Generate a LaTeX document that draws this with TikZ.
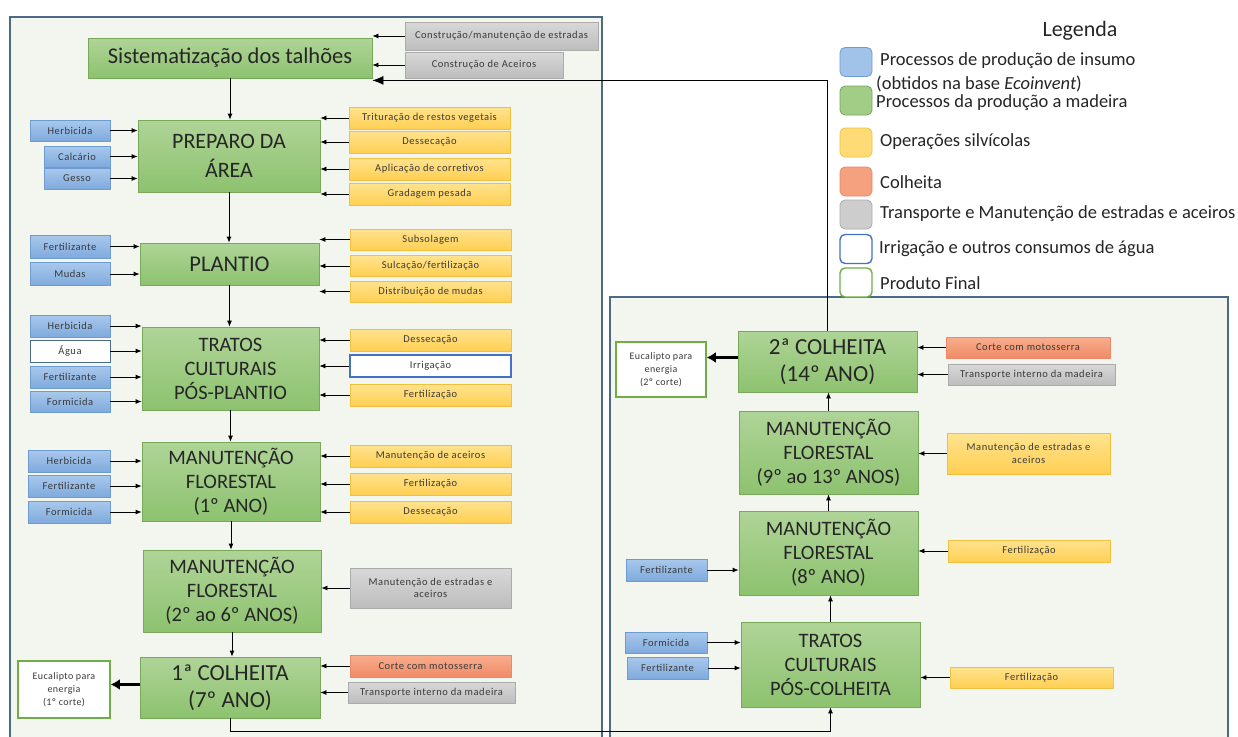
\documentclass[tikz,border=0pt]{standalone}
\usepackage{fontspec}
\setmainfont{Carlito}
\usetikzlibrary{arrows.meta}
\definecolor{gT}{HTML}{AFD497}\definecolor{gB}{HTML}{8DC26F}\definecolor{gD}{HTML}{78A85A}
\definecolor{bT}{HTML}{A9C8EC}\definecolor{bB}{HTML}{7FAADD}\definecolor{bD}{HTML}{6E9BD0}
\definecolor{yT}{HTML}{FFE38F}\definecolor{yB}{HTML}{FFCF52}\definecolor{yD}{HTML}{F2C040}
\definecolor{oT}{HTML}{F8AE8E}\definecolor{oB}{HTML}{F08A66}\definecolor{oD}{HTML}{E98A6A}
\definecolor{kT}{HTML}{D8D8D8}\definecolor{kB}{HTML}{BDBDBD}\definecolor{kD}{HTML}{ABABAB}
\definecolor{frameC}{HTML}{4A6A86}\definecolor{frameF}{HTML}{F2F6EE}
\definecolor{irrC}{HTML}{4472C4}\definecolor{prodC}{HTML}{70AD47}
\definecolor{txtC}{HTML}{262626}\definecolor{smallC}{HTML}{3A3A3A}
\newcommand{\smallfnt}{\fontsize{10.5}{12.5}\selectfont\addfontfeature{LetterSpace=5}}
\tikzset{
  sz/.style 2 args={minimum width=#1, minimum height=#2},
  basebox/.style={rectangle, draw, inner sep=1pt, align=center, line width=0.8pt},
  proc/.style={basebox, draw=gD, top color=gT, bottom color=gB, text=txtC, font={\fontsize{20.5}{24}\selectfont}},
  insumo/.style={basebox, draw=bD, top color=bT, bottom color=bB, text=smallC, font=\smallfnt},
  oper/.style={basebox, draw=yD, top color=yT, bottom color=yB, text=smallC, font=\smallfnt},
  colh/.style={basebox, draw=oD, top color=oT, bottom color=oB, text=smallC, font=\smallfnt},
  transp/.style={basebox, draw=kD, top color=kT, bottom color=kB, text=smallC, font=\smallfnt},
  agua/.style={basebox, draw=irrC, fill=white, line width=1.2pt, text=smallC, font=\smallfnt},
  produto/.style={basebox, draw=prodC, fill=white, line width=1.6pt, text=smallC, font={\fontsize{10}{13}\selectfont\addfontfeature{LetterSpace=4}}},
  arr/.style={-{Latex[length=6pt,width=5pt]}, line width=0.8pt, black},
  bigarr/.style={-{Latex[length=9pt,width=11pt]}, line width=2.6pt, black},
  fbarr/.style={-{Latex[length=11pt,width=9pt]}, line width=0.8pt, black},
  frame/.style={draw=frameC, fill=frameF, line width=1.4pt},
  swatch/.style={rectangle, rounded corners=5pt, minimum width=32pt, minimum height=29pt, line width=0.8pt},
  legtxt/.style={anchor=west, text=txtC, font={\fontsize{18.5}{21}\selectfont}, inner sep=0pt}
}
\begin{document}
\begin{tikzpicture}[x=1pt,y=-1pt]
\useasboundingbox (0,0) rectangle (1238,736);
\fill[white] (0,0) rectangle (1238,736);
\clip (0,0) rectangle (1238,736);
% containers
\draw[frame] (10,17) rectangle (602,750);
\draw[frame] (610,297) rectangle (1228,750);

% ---------------- left column
\node[proc, sz={284pt}{40pt}, font={\fontsize{22.5}{26}\selectfont}] (sist) at (230,58) {Sistematização dos talhões};
\node[transp, sz={193pt}{28pt}] (g1) at (501.5,36) {Construção/manutenção de estradas};
\node[transp, sz={158pt}{26pt}] (g2) at (484,65) {Construção de Aceiros};

\node[proc, sz={182pt}{72pt}, font={\fontsize{22}{29}\selectfont}] (prep) at (229,156) {PREPARO DA\\ÁREA};
\node[insumo, sz={80pt}{21pt}] (pb1) at (70,130.5) {Herbicida};
\node[insumo, sz={66pt}{21pt}] (pb2) at (77,156.5) {Calcário};
\node[insumo, sz={66pt}{21pt}] (pb3) at (77,178.5) {Gesso};
\node[oper, sz={161pt}{22pt}] (py1) at (429.5,118) {Trituração de restos vegetais};
\node[oper, sz={161pt}{22pt}] (py2) at (429.5,142) {Dessecação};
\node[oper, sz={161pt}{22pt}] (py3) at (429.5,169) {Aplicação de corretivos};
\node[oper, sz={161pt}{22pt}] (py4) at (429.5,194) {Gradagem pesada};

\node[proc, sz={179pt}{42pt}, font={\fontsize{22.5}{26}\selectfont}] (plant) at (229.5,264) {PLANTIO};
\node[insumo, sz={80pt}{23pt}] (lb1) at (70,246.5) {Fertilizante};
\node[insumo, sz={80pt}{23pt}] (lb2) at (70,274) {Mudas};
\node[oper, sz={161pt}{21pt}] (ly1) at (430.5,239.5) {Subsolagem};
\node[oper, sz={161pt}{21pt}] (ly2) at (430.5,266) {Sulcação/fertilização};
\node[oper, sz={161pt}{21pt}] (ly3) at (430.5,291.5) {Distribuição de mudas};

\node[proc, sz={177pt}{83pt}] (tpp) at (230.5,368.5) {TRATOS\\CULTURAIS\\PÓS-PLANTIO};
\node[insumo, sz={80pt}{22pt}] (tb1) at (70,326) {Herbicida};
\node[agua, sz={80pt}{22pt}, draw=frameC, line width=0.8pt] (tb2) at (70,351) {Água};
\node[insumo, sz={80pt}{22pt}] (tb3) at (70,377) {Fertilizante};
\node[insumo, sz={80pt}{21pt}] (tb4) at (70,401.5) {Formicida};
\node[oper, sz={161pt}{22pt}] (ty1) at (430.5,340) {Dessecação};
\node[agua, sz={161pt}{22pt}] (ty2) at (430.5,366) {Irrigação};
\node[oper, sz={161pt}{22pt}] (ty3) at (430.5,395) {Fertilização};

\node[proc, sz={178pt}{79pt}] (mf1) at (231,481.5) {MANUTENÇÃO\\FLORESTAL\\(1º ANO)};
\node[insumo, sz={82pt}{22pt}] (mb1) at (69,461) {Herbicida};
\node[insumo, sz={82pt}{22pt}] (mb2) at (69,486) {Fertilizante};
\node[insumo, sz={82pt}{22pt}] (mb3) at (69,512) {Formicida};
\node[oper, sz={161pt}{22pt}] (my1) at (430.5,456) {Manutenção de aceiros};
\node[oper, sz={161pt}{22pt}] (my2) at (430.5,484) {Fertilização};
\node[oper, sz={161pt}{22pt}] (my3) at (430.5,512) {Dessecação};

\node[proc, sz={178pt}{82pt}] (mf2) at (232,591) {MANUTENÇÃO\\FLORESTAL\\(2º ao 6º ANOS)};
\node[transp, sz={161pt}{40pt}] (mg1) at (430.5,588) {Manutenção de estradas e\\aceiros};

\node[proc, sz={180pt}{61pt}, font={\fontsize{23}{27}\selectfont}] (c1) at (230,687.5) {1ª COLHEITA\\(7º ANO)};
\node[produto, sz={92pt}{57pt}] (e1) at (64,689.5) {Eucalipto para\\energia\\(1º corte)};
\node[colh, sz={161pt}{22pt}] (co1) at (430.5,666) {Corte com motosserra};
\node[transp, sz={167pt}{21pt}] (tr1) at (431.5,692.5) {Transporte interno da madeira};

% ---------------- right column
\node[proc, sz={179pt}{61pt}, font={\fontsize{23}{27}\selectfont}] (c2) at (827.5,361.5) {2ª COLHEITA\\(14º ANO)};
\node[produto, sz={90pt}{55pt}] (e2) at (661,369.5) {Eucalipto para\\energia\\(2º corte)};
\node[colh, sz={164pt}{21pt}] (co2) at (1028,347.5) {Corte com motosserra};
\node[transp, sz={167pt}{21pt}] (tr2) at (1031.5,374.5) {Transporte interno da madeira};

\node[proc, sz={179pt}{83pt}] (mf3) at (828.5,452.5) {MANUTENÇÃO\\FLORESTAL\\(9º ao 13º ANOS)};
\node[oper, sz={163pt}{41pt}] (ry1) at (1028.5,453.5) {Manutenção de estradas e\\aceiros};

\node[proc, sz={179pt}{84pt}] (mf4) at (828.5,553) {MANUTENÇÃO\\FLORESTAL\\(8º ANO)};
\node[oper, sz={162pt}{22pt}] (ry2) at (1029,551) {Fertilização};
\node[insumo, sz={81pt}{22pt}] (rb1) at (666.5,570) {Fertilizante};

\node[proc, sz={179pt}{85pt}] (tpc) at (830.5,664.5) {TRATOS\\CULTURAIS\\PÓS-COLHEITA};
\node[insumo, sz={82pt}{21pt}] (rb2) at (666,642.5) {Formicida};
\node[insumo, sz={81pt}{22pt}] (rb3) at (667.5,668) {Fertilizante};
\node[oper, sz={163pt}{21pt}] (ry3) at (1031.5,677.5) {Fertilização};

% ---------------- connectors: right-side inputs (pointing left)
\foreach \s/\t in {g1/sist,g2/sist,py1/prep,py2/prep,py3/prep,py4/prep,ly1/plant,ly2/plant,ly3/plant,ty1/tpp,ty2/tpp,ty3/tpp,my1/mf1,my2/mf1,my3/mf1,mg1/mf2,co1/c1,tr1/c1,co2/c2,tr2/c2,ry1/mf3,ry2/mf4,ry3/tpc}
  \draw[arr] (\s.west) -- (\s.west -| \t.east);
% left-side inputs (pointing right)
\foreach \s/\t in {pb1/prep,pb2/prep,pb3/prep,lb1/plant,lb2/plant,tb1/tpp,tb2/tpp,tb3/tpp,tb4/tpp,mb1/mf1,mb2/mf1,mb3/mf1,rb1/mf4,rb2/tpc,rb3/tpc}
  \draw[arr] (\s.east) -- (\s.east -| \t.west);
% vertical flow
\draw[arr] (sist.south) -- (sist.south |- prep.north);
\draw[arr] (prep.south) -- (prep.south |- plant.north);
\draw[arr] (plant.south) -- (plant.south |- tpp.north);
\draw[arr] (tpp.south) -- (tpp.south |- mf1.north);
\draw[arr] (mf1.south) -- (mf1.south |- mf2.north);
\draw[arr] (mf2.south) -- (mf2.south |- c1.north);
\draw[arr] (c1.south) -- ++(0,13) coordinate (cb) -| (tpc.south);
\draw[arr] (tpc.north) -- (tpc.north |- mf4.south);
\draw[arr] (mf4.north) -- (mf4.north |- mf3.south);
\draw[arr] (mf3.north) -- (mf3.north |- c2.south);
% products
\draw[bigarr] ([yshift=3pt]c1.west) -- ([yshift=3pt]c1.west -| e1.east);
\draw[bigarr] ([yshift=4pt]c2.west) -- ([yshift=4pt]c2.west -| e2.east);
% feedback to sistematizacao
\draw[fbarr] (c2.north) |- ([yshift=-2pt]sist.south east);

% ---------------- legend
\node[text=txtC, font={\fontsize{22}{25}\selectfont}] (legt) at (1080,31) {Legenda};
\node[swatch, draw=bD, fill=bT!80!bB] (s1) at (856,62) {};
\node[swatch, draw=gD, fill=gT!60!gB] (s2) at (856,100.5) {};
\node[swatch, draw=yD, fill=yT!60!yB] (s3) at (856,142.5) {};
\node[swatch, draw=oD, fill=oT!60!oB] (s4) at (856,181.5) {};
\node[swatch, draw=kD, fill=kT!60!kB] (s5) at (856,214.5) {};
\node[swatch, draw=irrC, fill=white, line width=1.4pt] (s6) at (856,249) {};
\node[swatch, draw=prodC, fill=white, line width=1.4pt] (s7) at (856,282.5) {};
\node[legtxt] (l1) at (880,61) {Processos de produção de insumo};
\node[legtxt] (l1b) at (876,84) {(obtidos na base \textit{Ecoinvent})};
\node[legtxt] (l2) at (876,103) {Processos da produção a madeira};
\node[legtxt] (l3) at (880,142) {Operações silvícolas};
\node[legtxt] (l4) at (880,182) {Colheita};
\node[legtxt] (l5) at (880,214) {Transporte e Manutenção de estradas e aceiros};
\node[legtxt] (l6) at (879,249) {Irrigação e outros consumos de água};
\node[legtxt] (l7) at (880,283) {Produto Final};
\end{tikzpicture}
\end{document}
